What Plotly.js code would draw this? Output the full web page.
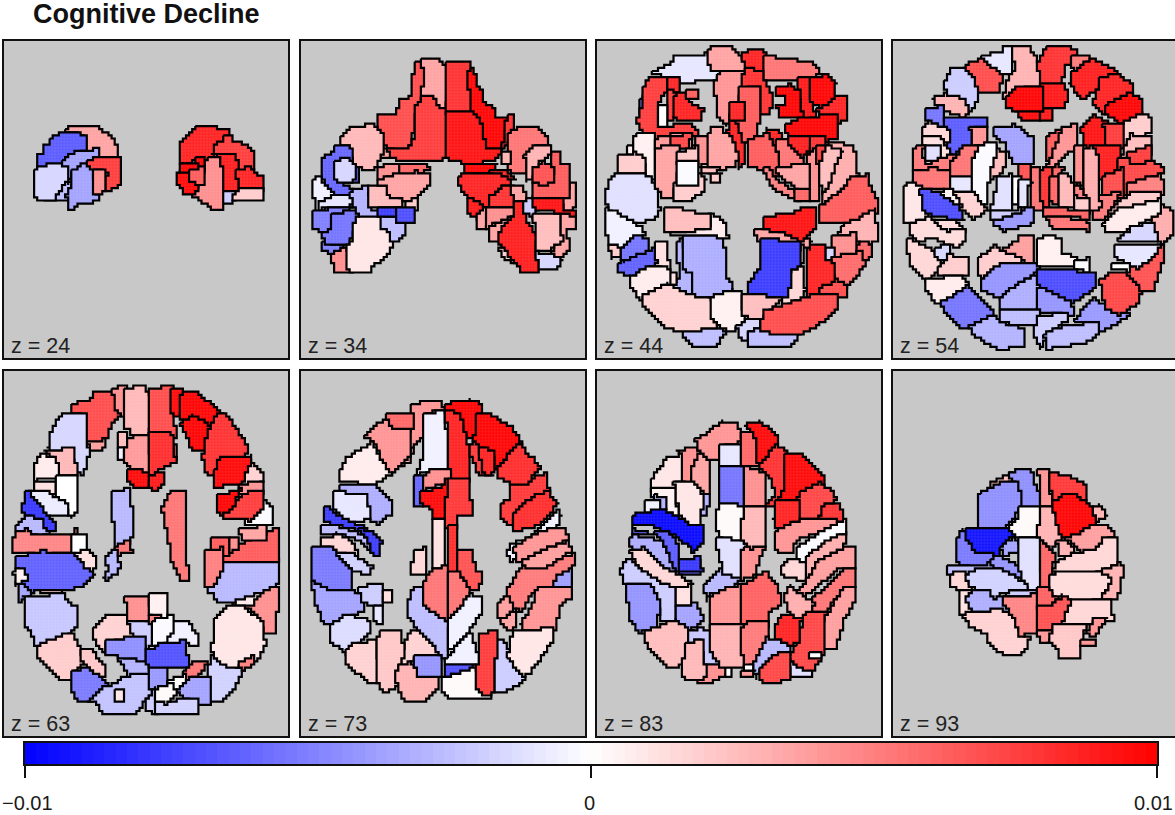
<!DOCTYPE html>
<html><head><meta charset="utf-8">
<script src="https://cdn.plot.ly/plotly-3.0.1.min.js"></script>
<style>html,body{margin:0;padding:0;background:#fff;overflow:hidden}#g{width:1175px;height:815px}</style>
</head><body><div id="g"></div>
<script>
const chartTitle="Cognitive Decline";
const sliceLabels=["z = 24","z = 34","z = 44","z = 54","z = 63","z = 73","z = 83","z = 93"];
const barLevels=[-0.0099,-0.0097,-0.0095,-0.0093,-0.0091,-0.0089,-0.0087,-0.0085,-0.0083,-0.0081,-0.0079,-0.0077,-0.0075,-0.0073,-0.0071,-0.0069,-0.0067,-0.0065,-0.0063,-0.0061,-0.0059,-0.0057,-0.0055,-0.0053,-0.0051,-0.0049,-0.0047,-0.0045,-0.0043,-0.0041,-0.0039,-0.0037,-0.0035,-0.0033,-0.0031,-0.0029,-0.0027,-0.0025,-0.0023,-0.0021,-0.0019,-0.0017,-0.0015,-0.0013,-0.0011,-0.0009,-0.0007,-0.0005,-0.0003,-0.0001,0.0001,0.0003,0.0005,0.0007,0.0009,0.0011,0.0013,0.0015,0.0017,0.0019,0.0021,0.0023,0.0025,0.0027,0.0029,0.0031,0.0033,0.0035,0.0037,0.0039,0.0041,0.0043,0.0045,0.0047,0.0049,0.0051,0.0053,0.0055,0.0057,0.0059,0.0061,0.0063,0.0065,0.0067,0.0069,0.0071,0.0073,0.0075,0.0077,0.0079,0.0081,0.0083,0.0085,0.0087,0.0089,0.0091,0.0093,0.0095,0.0097,0.0099];
const barTicks=[-0.01,0,0.01];
const barTickText=["\u22120.01","0","0.01"];

const z24=[
[.0035,"205,300 225,290 280,292 300,305 330,325 350,350 350,385 270,390 260,355 255,320 205,305"],
[-.0065,"155,330 175,315 225,312 255,325 255,355 210,378 185,400 145,410 120,415 120,375 135,370 135,350 155,345"],
[-.0025,"135,508 165,500 170,480 190,460 215,462 205,490 205,510"],
[-.0035,"190,395 215,375 290,360 290,385 270,395 280,420 225,420 205,455 195,410"],
[-.0015,"110,420 145,410 195,410 195,455 170,485 160,505 115,508 105,475 105,450 112,445"],
[-.0035,"220,425 255,405 270,410 278,450 285,490 295,500 270,515 230,520 225,532 212,530 205,490 220,462"],
[.0075,"270,395 290,385 355,385 358,455 345,470 315,480 315,425 280,420 270,410"],
[.0045,"280,425 315,425 312,480 285,488"],
[.0085,"590,298 685,298 685,320 660,340 645,372 635,385 580,390 560,400 548,398 548,340 575,315"],
[.0075,"675,320 695,325 700,340 730,345 750,365 757,375 757,415 715,425 700,380 645,375 650,345 672,340"],
[.0088,"640,375 700,375 715,415 715,460 720,488 705,490 665,480 665,390"],
[-.002,"668,485 700,490 703,510 670,517"],
[.0045,"620,390 660,390 665,480 665,530 640,530 605,505 580,490 610,455 615,420"],
[.0098,"590,390 612,390 612,410 590,412"],
[.0095,"540,420 565,420 570,450 590,460 585,488 555,485 540,455"],
[.0098,"550,405 590,405 588,425 550,425"],
[.0065,"570,425 610,415 612,455 600,460 570,445"],
[.0085,"715,420 755,418 765,440 782,440 782,478 720,475"],
[.002,"720,478 782,478 782,510 710,510 705,492"]];

const z34=[
[.007,"345,75 365,75 375,100 370,170 345,205 335,290 325,320 275,320 238,300 235,225 290,222 305,185 330,175 335,120"],
[.0035,"368,60 410,60 415,75 438,80 445,125 435,200 405,200 400,170 370,170 375,100"],
[.0035,"245,330 270,328 270,350 248,352"],
[.0075,"365,175 400,172 405,205 437,208 437,352 320,358 280,350 270,325 325,320 345,290 345,210"],
[.008,"440,75 505,75 510,130 518,220 440,220"],
[.0098,"510,90 525,90 530,140 545,160 550,195 575,205 582,225 620,228 605,320 548,320 545,270 520,225 508,130"],
[.0092,"440,222 520,222 545,270 550,320 605,322 580,360 500,365 445,352 440,350"],
[.008,"622,228 640,235 635,290 610,325 608,318"],
[.0028,"130,290 155,265 215,260 240,285 245,340 220,385 160,375 155,320 125,310"],
[-.006,"105,325 150,322 155,360 150,375 170,385 175,420 130,425 155,440 155,460 100,465 70,400 70,355 100,345"],
[-.0015,"105,365 145,362 165,385 165,415 140,425 105,415"],
[-.0005,"45,420 60,420 100,470 95,490 45,515"],
[-.001,"60,490 105,470 150,465 155,500 60,505"],
[-.005,"45,515 150,500 155,505 100,530 95,565 70,570 45,560"],
[.0045,"95,640 140,630 145,675 155,695 110,695"],
[-.005,"70,610 135,615 100,635 70,630"],
[-.0055,"100,530 170,510 170,555 140,610 80,610 70,575 95,570"],
[.001,"175,530 205,522 245,535 250,565 272,575 270,625 245,655 215,670 210,695 160,695 145,675 145,620 160,605 165,560"],
[-.003,"155,460 180,450 205,440 210,505 235,505 235,525 180,520 170,505"],
[.002,"320,480 350,470 345,510 320,505"],
[.0025,"212,445 270,440 278,465 305,475 305,500 210,500"],
[-.0025,"245,530 290,535 310,555 305,590 275,600 270,570 250,560"],
[-.0075,"235,505 290,508 290,530 240,530"],
[-.007,"290,510 338,510 335,548 295,540"],
[.0045,"240,385 265,375 305,375 300,400 250,412 238,410"],
[.006,"305,375 375,372 382,390 345,400 300,405"],
[.0035,"240,420 300,405 345,400 385,405 388,435 350,465 320,480 310,470 275,465 265,440 240,435"],
[.0098,"500,375 585,372 580,400 495,400"],
[.0085,"575,390 610,395 640,420 610,410 575,402"],
[.0085,"480,410 500,402 585,405 620,415 625,435 590,445 570,470 565,500 535,500 510,470 490,445 478,430"],
[.009,"510,480 535,495 555,510 550,530 530,528 512,515"],
[.0035,"535,530 560,505 565,545 555,565 535,560"],
[.008,"570,470 600,460 610,440 640,440 638,500 570,500"],
[.0045,"560,510 635,505 635,530 590,545 565,560"],
[.0035,"570,565 635,535 635,560 605,600 572,598"],
[.0035,"640,445 670,440 672,490 642,490"],
[.002,"605,615 640,650 645,670 620,650 605,635"],
[.0088,"645,495 670,495 680,555 705,590 705,640 715,688 665,688 640,650 605,610 605,575 645,530"],
[-.002,"675,485 700,480 708,510 695,530 680,510"],
[.0035,"785,525 825,530 822,570 800,575 805,625 780,655 760,630 780,600"],
[.0025,"705,525 780,525 780,600 745,630 710,630"],
[-.0015,"715,640 760,650 780,660 770,680 720,688"],
[.0035,"790,475 812,435 825,440 820,505 792,505"],
[.0092,"705,470 785,470 790,510 825,510 825,525 705,505"],
[.0065,"705,435 720,395 760,400 755,380 750,345 775,345 780,375 805,380 805,465 705,465"],
[.0055,"630,280 655,268 710,268 740,295 742,320 705,320 680,345 675,395 640,392 625,370 630,340"],
[.003,"680,345 705,320 745,325 745,345 715,365 700,410 680,420"],
[.0068,"705,390 730,372 755,385 755,420 740,430 705,425"],
[.003,"605,345 625,340 625,368 605,365"]];

const z44=[
[-.001,"178,95 225,75 240,55 330,45 345,75 370,100 355,115 260,125 245,105 180,105"],
[.0035,"338,30 385,22 415,35 445,70 445,90 390,98 355,85 338,60"],
[.0085,"445,45 470,30 500,35 510,60 505,98 450,88"],
[.0055,"512,50 570,60 640,70 670,100 610,115 510,120"],
[.0042,"365,105 445,95 440,145 410,200 395,250 370,220 360,140"],
[.008,"448,90 500,100 505,140 525,165 520,215 490,215 490,148 440,148"],
[.0085,"400,240 430,250 432,290 445,305 440,370 430,380 420,330 400,290"],
[.0065,"430,150 490,150 490,230 475,285 445,300 425,240 440,210"],
[.0085,"405,195 440,195 440,238 405,240"],
[-.005,"130,180 145,175 145,220 130,215"],
[.0075,"145,145 160,120 210,120 215,150 190,200 190,255 270,245 305,275 280,290 180,290 135,260 130,230 150,190"],
[.0085,"215,115 245,115 245,150 220,150"],
[.0075,"215,160 235,160 240,230 215,232"],
[.0085,"235,170 265,165 285,195 315,210 312,235 250,235 240,220"],
[.0065,"272,150 305,150 305,172 280,172"],
[0,"190,205 210,205 210,250 190,250"],
[.009,"608,120 640,118 645,200 660,230 615,232"],
[.0098,"548,145 580,140 582,150 610,150 615,230 555,230 548,190 570,185 570,175 548,170"],
[.0085,"665,205 690,190 715,170 745,175 750,230 725,248 720,225 680,225"],
[.0098,"648,115 695,112 715,135 710,175 680,195 660,190 645,170"],
[.0098,"575,255 610,238 660,240 680,225 722,225 720,295 680,300 650,285 580,285"],
[.0005,"95,320 115,315 115,340 100,340"],
[.0005,"120,290 170,290 175,410 155,410 145,350 115,345"],
[.002,"75,350 115,345 145,360 145,400 75,398"],
[-.0012,"40,430 65,405 145,405 175,440 185,510 170,535 100,545 60,520 35,490"],
[.004,"180,295 220,295 225,290 280,285 280,320 210,325 180,320"],
[.0072,"228,290 280,285 275,320 230,318"],
[.0035,"180,335 210,320 245,325 245,380 230,470 205,470 185,440 180,370"],
[.0045,"300,295 340,295 340,370 310,370 295,340"],
[.002,"345,400 372,400 370,420 348,420"],
[.0025,"320,380 380,385 345,398 320,395"],
[.0035,"340,285 350,270 375,270 410,310 420,350 415,375 380,382 335,370"],
[.0022,"245,340 300,325 305,370 245,370"],
[.002,"240,430 270,430 305,405 325,420 320,450 275,480 240,478"],
[-.0001,"245,372 302,372 302,428 248,428"],
[.0085,"515,270 545,275 552,298 545,320 525,300"],
[.0065,"465,305 510,285 530,315 550,370 540,410 505,385 465,375"],
[.005,"505,390 520,385 545,420 600,460 605,475 575,465 540,445"],
[.0055,"548,305 580,305 610,345 620,375 550,380"],
[.0035,"550,385 635,375 638,450 610,450 550,400"],
[.006,"605,450 640,450 640,480 605,478"],
[.0088,"580,290 650,290 650,310 620,345 585,310"],
[.008,"650,290 680,298 680,320 660,320 640,340"],
[.0045,"635,350 660,325 665,360 670,475 640,478 640,370"],
[.0075,"662,325 690,320 690,370 668,365"],
[.0032,"700,315 770,320 780,410 710,470 680,495 680,465 705,420"],
[.0025,"692,320 735,340 710,380 705,420 680,460 675,380"],
[.0065,"680,495 745,450 765,415 810,410 820,450 840,480 838,515 790,545 680,545"],
[.003,"740,560 780,545 835,510 838,600 800,610 775,580 735,580"],
[.006,"775,625 800,610 820,615 820,650 795,655"],
[.0045,"715,590 772,585 772,645 715,650"],
[-.0015,"695,630 710,630 708,665 695,665"],
[.0058,"715,655 790,640 805,680 780,700 770,720 745,738 715,720"],
[.007,"675,735 710,715 745,740 745,770 670,770"],
[.0085,"640,625 690,620 690,665 712,675 712,720 675,735 665,765 635,765"],
[.0035,"480,570 520,565 610,595 640,600 635,625 490,600"],
[.0092,"505,535 530,530 600,520 610,505 650,510 655,560 615,600 575,575 505,565"],
[.0015,"610,620 625,620 615,680 625,745 625,770 560,795 575,700 605,690"],
[-.0075,"495,600 610,612 605,680 580,690 575,770 465,770 462,725 495,690"],
[-.003,"240,610 262,600 265,695 290,695 295,768 260,770 225,735 255,710"],
[-.0032,"262,590 380,590 382,660 390,720 405,735 390,765 295,768 295,695 265,690 262,630"],
[.0008,"335,525 375,540 390,590 230,580 280,570 340,560"],
[.0025,"210,510 235,505 285,520 335,525 340,560 280,570 215,570 210,550"],
[.0012,"180,615 210,612 220,690 240,695 235,725 218,730 210,680 180,680"],
[.002,"45,620 70,620 75,640 50,650"],
[-.0005,"30,510 60,520 110,550 140,575 130,600 90,620 40,605"],
[-.0062,"70,670 100,650 170,630 175,670 110,705 75,690"],
[-.0055,"80,625 120,590 155,605 150,630 85,660"],
[.0008,"105,715 150,690 210,680 220,730 150,755 140,775 105,735"],
[-.0025,"265,870 375,870 380,885 355,915 305,918 270,890"],
[.0018,"145,770 215,735 275,770 340,775 355,860 270,870 215,860 150,800"],
[.0006,"345,775 405,755 435,765 440,860 400,865 355,840"],
[.0025,"440,765 555,775 505,820 495,835 440,825"],
[-.0015,"430,860 460,840 490,840 490,860 460,870 460,895 435,890"],
[-.0025,"465,880 490,865 530,880 610,880 575,920 465,920"],
[.007,"510,815 580,795 640,770 715,770 715,810 660,855 620,875 510,875 495,855"]];

const z54=[
[-.001,"295,45 350,45 355,28 378,28 378,100 335,95 295,65"],
[.007,"235,85 270,70 290,60 345,110 340,155 300,155 265,135"],
[.003,"150,175 190,165 245,175 240,230 165,200"],
[-.002,"185,125 200,90 240,95 265,120 275,180 250,215 240,170 190,160"],
[-.0055,"130,210 175,200 178,260 130,240"],
[.003,"380,25 435,25 440,50 465,75 465,135 400,140 380,180 360,165 370,120 395,90"],
[.008,"485,25 570,30 565,70 535,80 530,130 545,165 530,190 470,135 465,75"],
[.0052,"562,50 610,48 610,65 570,100"],
[.0088,"565,100 620,62 695,100 650,120 630,150 595,170 560,130"],
[.0085,"650,120 700,105 735,140 740,160 670,195 665,220 630,190"],
[.0098,"670,195 735,165 770,190 770,235 715,250 670,220"],
[.0095,"400,212 460,212 455,240 415,240"],
[.009,"470,212 500,212 500,235 470,235"],
[.009,"470,135 530,135 545,170 530,200 500,195 470,208"],
[.0098,"370,170 400,145 470,140 470,210 400,210 370,195"],
[.002,"715,255 770,225 795,240 795,275 740,295 715,315"],
[-.0065,"185,240 305,240 300,260 262,265 258,320 200,340 190,310"],
[.0015,"115,265 135,250 185,270 185,300 115,290"],
[.0012,"115,295 165,295 195,345 165,365 125,320"],
[.0052,"95,320 125,320 115,340 130,365 190,345 225,345 190,395 90,390 90,350"],
[-.0012,"125,325 160,325 165,350 140,362 125,350"],
[.0042,"260,265 300,262 300,310 262,318"],
[.0055,"90,395 145,390 195,400 195,448 95,445"],
[.0055,"200,375 235,325 290,322 265,375 265,410 200,410"],
[-.001,"200,410 262,410 262,455 200,448"],
[.0025,"320,320 360,350 350,395 310,415 310,400"],
[-.0002,"285,320 328,315 330,345 310,400 300,500 268,460 265,375"],
[-.0035,"335,265 390,262 435,295 438,365 385,365 365,310 335,290"],
[.001,"58,445 85,430 110,455 125,530 90,540 60,540"],
[.0018,"200,455 262,460 300,510 265,530 235,505"],
[.0005,"155,458 200,455 230,500 195,490"],
[-.007,"112,455 150,458 215,500 232,540 140,520 115,500"],
[.0014,"140,540 200,545 235,570 170,575"],
[.0014,"85,555 130,535 175,575 235,570 235,600 210,620 155,590 100,600 85,580"],
[.0015,"70,600 100,610 160,650 160,690 125,715 80,675"],
[-.0015,"155,625 190,620 190,660 160,650"],
[.002,"165,680 195,650 245,660 245,705 160,705"],
[.0008,"130,720 220,710 245,735 240,770 160,785 130,750"],
[-.0055,"170,790 205,775 245,745 285,780 325,825 240,860 205,835"],
[-.003,"260,860 320,830 350,855 410,865 410,920 335,920 270,880"],
[.0065,"485,295 530,270 530,305 495,365 485,350"],
[.0042,"535,265 570,260 570,320 510,375 490,375"],
[.0092,"595,265 625,230 660,250 660,320 605,315"],
[.0075,"660,260 708,260 708,320 665,320"],
[.0025,"720,325 740,290 795,295 795,345 715,355"],
[.0088,"630,320 700,325 695,410 640,410"],
[.0072,"705,360 800,370 830,385 825,405 735,430 735,460 710,450"],
[.0075,"730,340 790,320 795,360 745,370"],
[.005,"735,430 825,405 830,460 735,460"],
[.007,"655,415 710,390 712,470 655,470"],
[.0052,"630,480 655,470 705,460 660,530 630,530"],
[.0032,"800,550 825,500 860,515 862,575 835,605 805,580"],
[.002,"680,510 740,460 825,460 825,480 790,500 690,540"],
[.0008,"660,545 700,510 790,490 820,480 825,520 740,560 700,575 665,575"],
[.0045,"565,320 595,320 590,430 565,410"],
[.0032,"595,330 625,325 640,370 645,500 610,510 595,440"],
[.0055,"440,390 465,390 470,505 440,505"],
[.008,"470,395 500,385 505,410 490,515 470,470"],
[.006,"510,380 535,385 520,420 505,410"],
[.0068,"405,375 435,375 438,425 405,420"],
[.006,"495,420 518,410 520,490 500,490"],
[.0028,"520,410 545,405 570,450 570,500 520,490"],
[.005,"575,430 600,475 600,500 575,475"],
[.002,"575,475 605,480 605,515 575,510"],
[0,"385,420 405,420 400,490 385,480"],
[-.0012,"320,510 340,420 375,410 378,510"],
[-.001,"405,425 430,430 430,500 405,495"],
[-.002,"318,510 375,515 400,505 400,520 340,540 320,530"],
[-.004,"330,545 400,525 420,505 438,510 435,550 360,570"],
[.0062,"485,500 510,505 605,515 605,535 520,525 485,525"],
[.0055,"490,530 520,530 605,545 605,570 510,560"],
[.0005,"462,600 490,590 525,600 520,635 570,650 570,680 465,670"],
[.0038,"355,630 395,610 400,590 440,590 445,675 400,650 355,650"],
[.002,"285,655 330,625 350,640 400,655 400,670 330,685 290,715"],
[-.0003,"575,665 605,660 610,695 575,680"],
[-.0042,"295,715 345,680 440,670 458,690 380,745 350,770 295,745"],
[-.0032,"350,775 395,740 460,700 460,805 350,805"],
[-.007,"460,690 520,690 630,705 625,745 560,785 510,770 462,725"],
[-.0042,"465,745 520,775 555,790 560,825 465,810 462,800"],
[-.0025,"350,810 460,808 460,850 410,850 350,845"],
[-.002,"450,880 465,830 545,825 545,840 490,880 470,920"],
[-.004,"570,845 625,780 670,810 730,825 680,855 640,870 635,850"],
[-.0025,"485,880 545,860 635,850 638,880 600,905 490,925"],
[.0068,"730,690 815,625 838,610 830,660 805,745 770,745 730,705"],
[.0072,"650,720 690,700 725,710 765,755 755,785 705,820 665,800"],
[-.0015,"700,600 745,565 805,550 810,605 705,605"],
[-.001,"692,615 830,615 800,650 760,680 695,650"],
[0,"685,672 730,672 725,690 685,688"]];

const z63=[
[.0038,"265,205 310,210 305,235 275,240"],
[.007,"220,105 275,95 280,70 345,70 355,105 360,140 330,155 320,195 300,210 255,205 255,135 220,130"],
[.0045,"340,60 375,52 385,130 375,140 350,110"],
[.0028,"380,60 430,55 450,85 458,145 440,190 405,190 380,165"],
[.007,"455,60 515,55 520,165 530,200 450,195 450,100"],
[.0095,"518,65 545,60 545,100 540,135 515,125"],
[.0098,"545,85 555,70 590,72 620,100 665,135 640,170 575,140 550,165"],
[.0098,"550,165 575,140 640,178 620,235 580,235"],
[.008,"625,195 650,140 680,140 735,230 730,265 650,300 640,310 615,300 615,250"],
[.0018,"725,305 745,275 780,310 782,335 725,340"],
[.0095,"650,300 665,270 745,260 750,275 720,340 650,345"],
[.0042,"725,345 780,335 782,365 725,372"],
[-.0003,"745,440 790,395 815,420 810,460 745,465"],
[.0075,"675,415 715,395 730,375 782,370 785,415 750,445 680,445"],
[.0098,"658,380 720,360 695,410 660,435"],
[-.0015,"155,195 185,140 255,140 258,230 260,260 250,310 225,300 215,240 150,235"],
[.0028,"140,245 215,240 230,310 170,315 165,265"],
[.0008,"105,300 120,260 165,265 170,320 110,325"],
[.0012,"105,335 165,335 165,370 105,365"],
[0,"170,325 230,320 230,420 215,435 195,400 170,370"],
[-.0008,"90,370 130,365 195,400 195,435 145,435 90,395"],
[-.0078,"78,370 90,372 160,460 160,480 125,470 120,445 72,430"],
[-.0028,"55,470 80,445 120,450 125,475 145,485 120,500 90,480 55,480"],
[.0048,"50,490 85,480 115,500 215,495 220,480 230,500 215,545 125,550 85,545 45,545"],
[0,"220,500 255,500 255,548 222,548"],
[.0012,"225,555 265,545 280,570 278,610 255,600"],
[-.0035,"55,640 75,640 100,665 60,695"],
[-.0062,"55,565 120,550 215,550 250,595 280,615 240,650 180,655 100,660 70,630 70,610 55,595"],
[.0005,"45,605 70,600 75,625 50,640"],
[.0018,"125,660 180,658 175,672 130,672"],
[-.0022,"75,680 190,680 200,705 225,710 230,760 200,790 165,815 110,825 100,780 80,760"],
[.002,"115,830 215,790 235,840 245,880 220,905 215,925 185,925 115,855"],
[.0022,"250,845 275,845 310,890 310,915 285,910 250,870"],
[-.0052,"222,910 260,900 285,920 320,940 270,990 240,990 220,955"],
[-.0024,"270,990 310,955 350,945 385,915 445,910 450,975 420,1005 400,1025 310,1028 305,1000"],
[.001,"345,960 365,960 365,985 345,985"],
[.0045,"700,675 745,665 790,660 830,655 830,700 820,780 795,780 760,710 710,710"],
[.0008,"700,675 780,665 755,700 715,705"],
[-.0018,"625,940 635,860 670,885 730,900 695,960 660,990 630,995"],
[.0009,"650,750 680,715 720,710 780,755 790,820 770,870 700,885 670,880 640,840"],
[.005,"720,880 755,860 755,880 735,895"],
[-.0028,"625,650 665,575 828,575 832,640 790,660 700,690 660,690"],
[.0065,"670,540 700,530 760,510 830,475 835,575 670,575"],
[.0035,"725,480 790,470 790,505 730,510"],
[.0065,"640,510 680,508 685,550 640,550"],
[.0045,"690,510 715,510 715,535 690,540"],
[.005,"615,545 665,540 665,590 645,640 615,640"],
[-.0028,"340,370 385,362 390,420 400,430 390,500 385,510 355,545 360,590 325,630 312,615 325,590 320,550 350,530 340,450"],
[.0055,"355,530 385,515 390,545 355,550"],
[.0055,"510,375 558,368 558,440 560,570 565,625 550,630 520,575 490,420"],
[.0025,"355,195 378,190 380,225 355,230"],
[-.0005,"355,235 375,235 370,265 355,265"],
[.005,"520,230 530,230 530,265 520,265"],
[.004,"385,210 445,195 450,310 420,305 375,270"],
[.0082,"450,195 515,197 520,275 480,290 465,315 450,310"],
[.0095,"390,305 420,305 450,320 440,350 410,350 390,335"],
[.009,"450,320 490,310 490,340 465,355 450,350"],
[.0018,"285,775 320,740 380,740 405,760 410,805 325,810 320,850 285,800"],
[-.002,"385,745 420,750 455,760 460,820 440,830 405,805"],
[.0045,"380,680 445,680 448,745 388,745"],
[.0005,"452,680 498,680 498,740 475,740 452,730"],
[.005,"450,735 478,735 478,755 450,755"],
[-.0006,"490,790 520,755 560,760 590,805 585,825 555,815 490,825"],
[-.0003,"460,755 515,740 510,790 490,820 460,820"],
[-.003,"355,860 380,865 435,865 445,905 390,910"],
[-.0045,"322,810 430,805 435,870 380,860 325,850"],
[-.004,"450,890 498,885 500,945 470,960 452,945"],
[-.0068,"440,845 490,825 555,815 558,885 450,885"],
[.0055,"555,900 580,880 618,878 600,905 570,930"],
[.0002,"510,935 555,915 555,960 520,960"],
[-.0035,"530,965 570,930 625,925 625,1000 595,1000 575,985"],
[-.002,"440,1000 465,960 470,1030 445,1015"],
[-.0018,"472,1000 580,985 590,1000 585,1028 472,1028"],
[.0001,"472,960 510,945 525,970 500,995 470,990"]];

const z73=[
[.003,"325,250 350,240 340,270 320,285"],
[.0042,"348,105 430,100 440,120 390,135 380,195 340,235 340,190 350,165"],
[.0042,"215,200 250,165 280,150 305,172 340,178 340,235 335,260 310,285 285,310 265,290 250,225"],
[.006,"280,135 345,130 345,175 300,170 280,150"],
[.0008,"140,300 160,265 225,225 265,295 280,310 240,335 140,335"],
[-.0007,"385,140 445,125 455,300 385,300 360,310 385,260"],
[.0098,"450,105 515,95 550,105 550,125 540,200 510,195 490,135 450,125"],
[.0085,"452,130 490,135 515,240 520,330 460,330"],
[.0078,"525,225 548,225 560,300 590,315 550,310 525,250"],
[.0098,"545,135 575,135 640,175 670,215 640,250 600,290 590,240 540,215"],
[.0085,"555,240 590,245 595,295 585,310 560,300"],
[.0078,"620,400 650,385 650,340 705,330 750,310 752,375 700,385 660,425 655,465 620,440"],
[.0082,"610,295 640,260 665,225 690,255 730,295 690,335 650,335 610,315"],
[.0082,"658,430 715,380 750,370 780,405 730,460 660,480"],
[-.006,"355,322 375,322 378,400 358,405"],
[.0045,"385,320 410,305 455,305 455,335 385,355"],
[.0095,"382,365 435,360 445,335 455,335 450,442 415,442 405,405 382,400"],
[.0078,"455,335 518,335 522,430 485,435 485,470 452,470"],
[-.0032,"140,345 228,348 255,370 280,400 280,430 245,455 220,450 210,380 140,370"],
[-.001,"115,370 205,375 220,445 150,450 115,410"],
[-.0075,"88,415 100,410 130,440 210,475 225,510 175,475 90,455"],
[-.0025,"80,470 110,465 180,490 220,510 222,545 185,510 130,490 80,495"],
[-.0075,"190,480 225,490 250,515 248,550 225,545 220,510"],
[.0015,"80,510 130,500 160,515 180,550 170,560 100,530 80,530"],
[-.0018,"120,555 175,560 225,590 215,612 175,595"],
[-.0052,"55,535 100,535 130,570 165,610 165,660 85,655 55,630"],
[-.0035,"55,635 85,660 165,665 195,680 195,720 130,750 90,760 60,690"],
[-.0014,"105,770 150,740 215,755 215,790 175,825 155,845 110,810"],
[-.002,"190,655 250,645 260,675 250,710 205,690"],
[.0012,"262,670 285,670 285,695 262,695"],
[-.001,"238,710 260,712 260,755 240,750"],
[.0018,"155,840 170,825 240,815 245,930 215,930 160,880"],
[.0018,"320,850 345,790 375,785 410,820 420,855 355,860 345,880 320,880"],
[.0022,"250,790 315,785 318,860 300,900 320,935 270,960 245,930"],
[.003,"310,885 345,885 380,915 425,925 425,950 385,990 330,990 305,930"],
[-.0042,"355,860 430,860 430,912 370,912"],
[.0012,"415,450 447,450 445,590 410,590"],
[.0015,"355,545 385,540 390,605 350,605"],
[.0082,"455,475 485,475 485,610 455,605"],
[.0068,"490,545 530,545 530,600 552,605 548,650 520,650 490,605"],
[-.0025,"340,700 355,655 380,660 385,700 455,750 450,870 410,820 375,780 345,740"],
[.0055,"385,640 410,605 450,590 450,745 385,700"],
[.0055,"455,612 485,610 515,665 500,725 460,745"],
[-.0007,"458,750 490,720 520,680 550,690 550,735 510,790 470,830 458,840"],
[-.0005,"458,860 520,790 550,885 455,880"],
[-.0068,"450,885 530,885 510,910 450,915"],
[.0001,"440,925 505,910 540,895 540,945 575,970 580,985 475,985 440,960"],
[-.002,"598,820 620,815 680,925 640,955 598,960"],
[.0075,"555,795 600,790 595,960 570,970 540,945"],
[.0042,"680,755 720,700 725,650 770,650 825,655 825,685 790,700 775,775 680,775"],
[.001,"640,860 655,785 765,780 770,810 720,880 690,915"],
[.0052,"640,660 680,595 830,555 825,600 770,650 720,650 680,720 645,710"],
[-.0038,"775,650 790,620 825,600 825,650"],
[.0038,"610,700 625,685 640,690 645,720 625,750 610,740"],
[.0035,"620,750 665,720 650,780 630,765"],
[-.0006,"655,515 700,505 780,420 790,440 785,470 720,490 650,570 640,545"],
[.0042,"660,530 730,490 800,475 815,510 740,535 665,575"],
[.0038,"690,570 730,550 810,518 822,545 745,590 690,590"]];

const z83=[
[.0045,"255,245 315,240 320,280 295,335 270,330 270,260"],
[.0035,"300,310 325,250 350,280 350,370 300,340"],
[.0042,"318,205 350,195 385,160 430,165 445,215 385,225 385,265 350,265 320,225"],
[.0009,"185,325 225,270 265,260 265,335 245,335 245,355 180,355"],
[-.003,"330,380 350,378 345,425 328,435"],
[.0007,"180,362 245,360 245,400 270,438 220,420 215,385 180,380"],
[-.003,"190,380 222,385 222,410 190,410"],
[-.0006,"160,398 195,395 195,420 160,420"],
[.0009,"250,340 300,340 330,380 320,460 290,455 270,430 255,380"],
[-.006,"125,480 170,490 175,495 125,495"],
[-.0032,"115,510 130,500 200,515 230,560 250,600 200,590 160,545 115,530"],
[-.0065,"190,485 225,485 260,530 265,580 322,570 322,605 265,605 245,580 230,540"],
[-.0078,"265,570 320,565 325,605 265,605"],
[-.0095,"125,440 150,430 215,425 290,465 325,470 330,510 300,540 280,520 245,490 180,465 125,470"],
[.0015,"115,540 160,540 200,590 250,610 300,640 250,650 185,625 140,585"],
[-.002,"90,605 110,570 155,610 200,640 245,655 250,750 205,750 180,650 105,640"],
[-.0042,"108,645 170,645 200,700 190,770 145,780 115,740"],
[.0012,"255,660 295,650 295,705 255,705"],
[-.0035,"255,715 310,705 330,750 300,770 280,785 255,750"],
[.0025,"160,790 200,775 245,755 300,790 280,880 225,885 175,830"],
[-.0022,"295,790 320,780 355,790 380,825 380,880 335,880 330,815 298,820"],
[.0045,"335,885 400,885 400,915 350,935 320,930"],
[.0028,"285,825 330,815 335,900 335,925 285,925 272,900"],
[0,"402,885 418,885 415,915 402,915"],
[-.001,"390,225 450,225 450,282 390,282"],
[-.0055,"385,290 450,290 450,408 385,408"],
[.0001,"375,440 385,410 450,410 448,505 395,505 380,470"],
[-.0028,"345,640 385,600 450,625 420,650 360,670 345,695"],
[-.0012,"375,510 395,505 445,520 460,530 455,615 395,610 388,550"],
[.0042,"358,685 410,655 458,650 458,760 358,765"],
[.003,"358,768 450,768 450,890 390,885 360,840"],
[.006,"450,190 490,192 500,280 450,285"],
[.0095,"458,170 500,160 550,200 550,235 515,280 500,280 490,192"],
[.008,"505,290 550,230 585,255 575,300 580,360 555,400 525,400 550,360 540,320 505,295"],
[.0095,"580,260 630,258 690,320 695,345 640,370 620,395 555,395 580,360"],
[.008,"690,400 735,405 750,430 750,455 700,450 685,435"],
[.0072,"625,370 680,345 720,370 725,395 690,400 680,435 620,440 625,400"],
[.0085,"555,395 615,395 620,450 560,480 550,445"],
[.0042,"560,480 640,450 720,450 745,460 700,480 620,505 605,540 558,540"],
[-.0003,"620,530 680,495 755,450 760,490 700,520 650,570 620,575"],
[.0032,"650,560 700,520 760,490 750,535 680,570 650,625"],
[.0015,"575,590 590,570 640,580 640,625 580,620"],
[.0038,"650,625 680,580 750,540 785,535 785,595 730,600 665,660 625,680 620,655 650,630"],
[.0055,"670,680 720,640 760,600 785,600 785,650 750,660 700,725 670,720"],
[.0032,"585,680 595,650 625,680 660,700 655,730 620,740 590,715"],
[.0038,"690,780 695,755 755,655 785,655 785,700 755,740 730,830 690,825"],
[-.0012,"595,880 625,890 650,895 650,918 600,915"],
[.0072,"620,825 640,730 700,730 690,825 695,840 665,895 625,890 595,855"],
[0,"660,850 685,850 685,865 660,865"],
[.0085,"555,770 570,745 625,745 615,810 590,825 555,800"],
[.0045,"455,540 515,535 490,590 490,610 450,625"],
[.0062,"455,650 520,610 550,650 560,680 555,710 525,720 525,765 455,760"],
[.0052,"458,765 525,755 525,820 510,870 458,890 452,800"],
[.0045,"455,290 520,320 515,400 455,405"],
[.0028,"455,412 520,412 520,520 480,530 455,500"],
[-.0028,"490,880 525,810 580,825 590,845 550,865 510,895 495,925"],
[.0072,"510,895 560,850 590,850 590,925 530,935 510,925"],
[.004,"450,905 482,905 480,920 450,918"],
[0,"458,885 482,885 482,900 458,900"]];

const z93=[
[.0025,"320,340 350,330 380,310 378,335 350,345 320,360"],
[-.0045,"380,310 435,300 445,350 460,370 460,410 405,410 395,340 380,330"],
[-.0045,"290,375 320,360 350,340 395,340 405,410 360,470 285,470 285,420"],
[.0001,"405,415 460,415 460,500 380,500 365,475 400,450"],
[-.0052,"220,510 235,485 265,510 280,545 325,555 325,600 270,590 220,575"],
[-.0092,"245,475 365,475 380,500 355,520 340,550 280,540 245,500"],
[-.0035,"355,530 380,510 400,525 400,548 355,550"],
[-.0025,"190,590 320,582 330,600 260,605 195,615"],
[-.0042,"318,570 345,565 400,590 420,630 390,615 335,595"],
[-.0012,"402,510 460,510 470,650 430,658 410,600"],
[.0015,"200,615 240,610 250,640 260,660 205,650"],
[-.002,"365,660 430,660 460,675 400,675 365,680"],
[-.0018,"250,620 270,605 330,600 385,620 425,655 340,665 335,690 315,680 310,660 260,650"],
[.0012,"225,670 255,665 250,700 265,730 230,730"],
[-.0032,"250,685 270,665 310,665 320,690 360,680 385,745 350,720 265,725"],
[.0018,"230,735 265,730 350,725 385,750 400,790 430,800 420,830 405,850 360,850 320,820 310,790 265,770"],
[.0048,"360,682 460,678 460,785 400,790 395,745 360,700"],
[.0042,"462,305 490,305 498,405 465,405"],
[.0078,"500,310 560,330 600,350 600,390 575,380 535,385 505,395"],
[.003,"628,420 640,410 660,435 635,455"],
[.003,"465,415 505,420 535,490 520,510 500,530 465,500"],
[.0098,"505,400 535,380 570,380 610,410 630,460 590,490 535,500 520,450"],
[.0038,"550,505 590,490 620,470 670,475 680,500 650,510 635,540 605,545"],
[.003,"520,515 540,515 565,540 545,560 525,550"],
[.006,"465,515 510,560 495,600 490,650 470,650"],
[.0015,"525,570 560,555 630,540 650,505 695,505 695,580 630,605 525,620 510,600"],
[.003,"640,610 700,585 712,600 695,685 640,685 675,640"],
[.0014,"500,620 530,610 620,605 665,620 670,640 640,685 575,695 520,680 495,665"],
[.0015,"535,700 560,690 670,690 680,750 620,750 605,765 530,760"],
[.0062,"465,660 490,655 500,680 525,675 495,710 465,708"],
[.0068,"462,712 500,710 540,680 550,700 525,765 465,780"],
[.004,"462,785 495,785 492,815 470,815"],
[.0022,"495,815 510,770 600,768 590,800 580,855 525,860 520,825"],
[.0042,"605,790 630,750 660,748 635,790"],
[.0042,"595,808 630,808 628,825 595,825"]];

const sliceRegions=[z24,z34,z44,z54,z63,z73,z83,z93];
const panelBoxes=[[4,41,288,358],[301,41,585,358],[597,41,881,358],[893,41,1175,358],[4,371,288,736],[301,371,585,736],[597,371,881,736],[893,371,1175,736]];
const readOrigins=[[0,30],[300,40],[596,40],[885,40],[0,370],[296,370],[592,370],[885,370]];
const W=1175,H=815,UNITS=3,VOXEL=9.3,GROW=7;

function colourOf(v){
  const t=Math.min(1,Math.abs(v)/0.01), q=Math.round(255*(1-Math.round(t*50)/50));
  return v>=0?`rgb(255,${q},${q})`:`rgb(${q},${q},255)`;
}
function voxelOutline(s){
  let p=s.split(" ").map(a=>a.split(",").map(Number));
  const cx=p.reduce((a,b)=>a+b[0],0)/p.length,cy=p.reduce((a,b)=>a+b[1],0)/p.length;
  p=p.map(([a,b])=>{const d=Math.hypot(a-cx,b-cy)||1;return [a+(a-cx)/d*GROW,b+(b-cy)/d*GROW];});
  p.push(p[0]);
  const snap=a=>Math.round(a/VOXEL)*VOXEL, xs=[],ys=[];
  let lx=snap(p[0][0]),ly=snap(p[0][1]); xs.push(lx);ys.push(ly);
  for(let i=0;i<p.length-1;i++){
    const [a,b]=p[i],[c,d]=p[i+1],n=Math.max(1,Math.ceil(Math.max(Math.abs(c-a),Math.abs(d-b))/(VOXEL/3)));
    for(let k=1;k<=n;k++){
      const nx=snap(a+(c-a)*k/n),ny=snap(b+(d-b)*k/n);
      if(nx!==lx){lx=nx;xs.push(lx);ys.push(ly);}
      if(ny!==ly){ly=ny;xs.push(lx);ys.push(ly);}
    }
  }
  return {x:xs,y:ys};
}
const traces=[],layout={width:W,height:H,margin:{l:0,r:0,t:0,b:0},paper_bgcolor:"#fff",plot_bgcolor:"#fff",showlegend:false,annotations:[],shapes:[],
  font:{family:"Liberation Sans, Arial, sans-serif",color:"#1a1a1a"}};
sliceRegions.forEach((regions,i)=>{
  const [L,T,R,B]=panelBoxes[i],[ox,oy]=readOrigins[i],id=i?String(i+1):"";
  layout["xaxis"+id]={domain:[L/W,R/W],range:[(L-ox)*UNITS,(R-ox)*UNITS],anchor:"y"+id,showgrid:false,zeroline:false,showticklabels:false,ticks:"",showline:true,linecolor:"#111",linewidth:2,mirror:true,layer:"above traces"};
  layout["yaxis"+id]={domain:[1-B/H,1-T/H],range:[(B-oy)*UNITS,(T-oy)*UNITS],anchor:"x"+id,showgrid:false,zeroline:false,showticklabels:false,ticks:"",showline:true,linecolor:"#111",linewidth:2,mirror:R<W,layer:"above traces"};
  layout.shapes.push({type:"rect",xref:`x${id} domain`,yref:`y${id} domain`,x0:0,x1:1,y0:0,y1:1,fillcolor:"#c8c8c8",line:{width:0},layer:"below"});
  regions.forEach(([v,s])=>{
    const o=voxelOutline(s),c=colourOf(v);
    traces.push({type:"scatter",mode:"lines",x:o.x,y:o.y,xaxis:"x"+id,yaxis:"y"+id,fill:"toself",fillcolor:c,
      fillpattern:{shape:"+",size:3.1,solidity:0.12,fgcolor:"#ffffff",fgopacity:0.35,bgcolor:c},
      line:{color:"#000",width:2.2},hoverinfo:"skip",showlegend:false});
  });
  layout.annotations.push({xref:"paper",yref:"paper",x:(L+5)/W,y:1-(B-12)/H,xanchor:"left",yanchor:"middle",text:sliceLabels[i],showarrow:false,font:{size:21.5,color:"#222"}});
});
traces.push({type:"heatmap",x:barLevels,y:[0],z:[barLevels],xaxis:"x9",yaxis:"y9",zmin:-0.01,zmax:0.01,showscale:false,hoverinfo:"skip",
  colorscale:[[0,"#0000ff"],[0.5,"#ffffff"],[1,"#ff0000"]]});
layout.xaxis9={domain:[25/W,1157/W],range:[-0.01,0.01],anchor:"y9",tickvals:barTicks,showticklabels:false,ticks:"outside",ticklen:12,tickwidth:2,tickcolor:"#111",
  showline:true,linecolor:"#111",linewidth:2,mirror:true,showgrid:false,zeroline:false};
layout.yaxis9={domain:[1-764/H,1-743/H],range:[-0.5,0.5],anchor:"x9",showticklabels:false,ticks:"",showline:true,linecolor:"#111",linewidth:2,mirror:true,showgrid:false,zeroline:false};
// value labels of the colour bar: the outer two are kept just inside the page
[[1/W,"left"],[590/W,"center"],[1174/W,"right"]].forEach(([x,a],i)=>layout.annotations.push({xref:"paper",yref:"paper",x:x,y:1-802.5/H,xanchor:a,yanchor:"middle",borderpad:0,text:barTickText[i],showarrow:false,font:{size:20,color:"#1a1a1a"}}));
layout.annotations.push({xref:"paper",yref:"paper",x:31/W,y:1-14/H,xanchor:"left",yanchor:"middle",text:"<b>"+chartTitle+"</b>",showarrow:false,font:{size:27,color:"#111"}});
Plotly.newPlot("g",traces,layout,{displayModeBar:false,staticPlot:true});
</script></body></html>
